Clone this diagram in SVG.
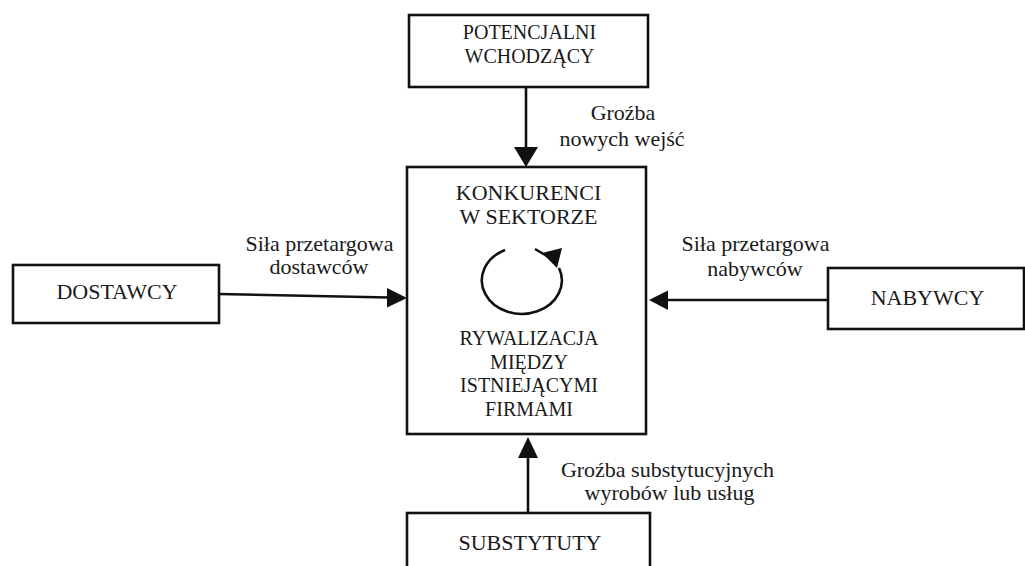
<svg xmlns="http://www.w3.org/2000/svg" width="1025" height="566" viewBox="0 0 1025 566">
<style>
.box{fill:#fff;stroke:#111;stroke-width:2.6}
.t{font-family:"Liberation Serif",Tinos,"Times New Roman","DejaVu Serif",serif;fill:#1a1a1a;text-anchor:middle}
.big{font-size:22px}
.sm{font-size:20px}
.ln{stroke:#111;stroke-width:2.6;fill:none}
.ah{fill:#111}
</style>
<rect width="1025" height="566" fill="#fff"/>
<g id="connectors">
<line class="ln" x1="526" y1="87" x2="526" y2="149"/>
<polygon class="ah" points="514,147 538,147 526,167"/>
<line class="ln" x1="219" y1="294" x2="389" y2="297.5"/>
<polygon class="ah" points="387,288 387,307.5 407,298"/>
<line class="ln" x1="828" y1="300" x2="666" y2="300"/>
<polygon class="ah" points="668,290.5 668,310 649,300"/>
<line class="ln" x1="528" y1="513" x2="528" y2="456"/>
<polygon class="ah" points="518,458 538,458 528,437"/>
<text class="t big" x="623" y="120" font-family="Liberation Serif, serif">Groźba</text>
<text class="t big" x="622" y="146" font-family="Liberation Serif, serif">nowych wejść</text>
<text class="t big" x="319.5" y="251" font-family="Liberation Serif, serif">Siła przetargowa</text>
<text class="t big" x="319" y="274" font-family="Liberation Serif, serif">dostawców</text>
<text class="t big" x="755.5" y="251" font-family="Liberation Serif, serif">Siła przetargowa</text>
<text class="t big" x="755" y="276" font-family="Liberation Serif, serif">nabywców</text>
<text class="t big" x="667.5" y="477" font-family="Liberation Serif, serif">Groźba substytucyjnych</text>
<text class="t big" x="669.5" y="500" font-family="Liberation Serif, serif">wyrobów lub usług</text>
</g>
<g id="potencjalni" font-family="Liberation Serif, serif">
<rect class="box" x="409" y="15" width="239" height="72"/>
<text class="t sm" x="529.5" y="39">POTENCJALNI</text>
<text class="t sm" x="529.5" y="63">WCHODZĄCY</text>
</g>
<g id="konkurenci">
<rect class="box" x="407" y="167" width="239" height="267"/>
<text class="t big" x="528.5" y="200">KONKURENCI</text>
<text class="t big" x="528.5" y="224">W SEKTORZE</text>
<path class="ln" d="M505,250 A40,33.5 0 1 0 559,268"/>
<line class="ln" x1="535" y1="249" x2="547" y2="256"/>
<polygon class="ah" points="542,253 562,248 557,268"/>
<text class="t sm" x="529" y="345">RYWALIZACJA</text>
<text class="t sm" x="529" y="368.7">MIĘDZY</text>
<text class="t sm" x="529" y="392.3">ISTNIEJĄCYMI</text>
<text class="t sm" x="529" y="416">FIRMAMI</text>
</g>
<g id="dostawcy">
<rect class="box" x="13" y="265" width="206" height="58"/>
<text class="t big" x="117" y="299">DOSTAWCY</text>
</g>
<g id="nabywcy">
<rect class="box" x="828" y="268" width="196" height="61"/>
<text class="t big" x="927.5" y="305">NABYWCY</text>
</g>
<g id="substytuty">
<rect class="box" x="407" y="513" width="243" height="70"/>
<text class="t big" x="530" y="550">SUBSTYTUTY</text>
</g>
</svg>
